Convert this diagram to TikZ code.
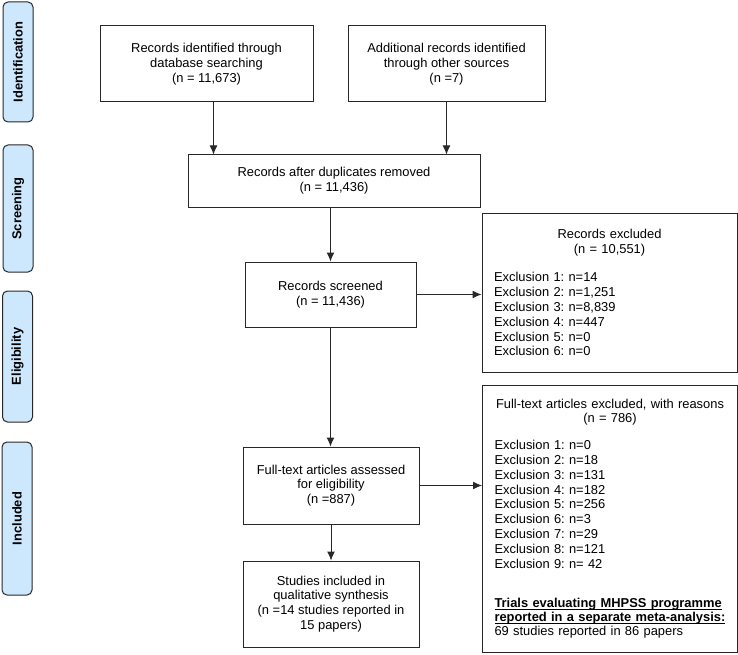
\documentclass[tikz,border=0pt]{standalone}
\usepackage{fontspec}
\setmainfont{Liberation Sans}
\usetikzlibrary{arrows.meta}
\definecolor{phaseblue}{RGB}{205,232,252}
\definecolor{edgegrey}{RGB}{40,40,40}
\frenchspacing

\begin{document}
\begin{tikzpicture}[x=1pt,y=-1pt]
	\tikzstyle{every node}=[font=\fontsize{12.9}{14.8}\selectfont]
	\tikzstyle{box}=[draw=edgegrey, line width=1pt, align=center, inner sep=0pt]
	\tikzstyle{listbox}=[draw=edgegrey, line width=1pt, align=left, inner xsep=12pt, inner ysep=0pt, text width=231pt]
	\tikzstyle{phase}=[draw=edgegrey, line width=1pt, fill=phaseblue, rounded corners=5pt, rotate=90, minimum height=30pt, inner sep=0pt, font=\fontsize{12.9}{15}\selectfont\bfseries]
	\tikzstyle{arr}=[-{Latex[length=9pt,width=8pt]}, line width=1pt, draw=edgegrey]
	\useasboundingbox (0,0) rectangle (738,655);

	% phases
	\node[phase, minimum width=120pt] (ident) at (18,62) {Identification};
	\node[phase, minimum width=127pt] (screen) at (18,208.5) {Screening};
	\node[phase, minimum width=131pt] (elig) at (17.5,356.5) {Eligibility};
	\node[phase, minimum width=153pt] (incl) at (17,518.5) {Included};

	% flow boxes
	\node[box, minimum width=213pt, minimum height=76pt] (db) at (206.5,64) {Records identified through\\database searching\\(n = 11,673)};
	\node[box, minimum width=197pt, minimum height=76pt] (other) at (446.5,64) {Additional records identified\\through other sources\\(n =7)};
	\node[box, minimum width=292pt, minimum height=52pt] (dup) at (334,181) {Records after duplicates removed\\(n = 11,436)};
	\node[box, minimum width=171pt, minimum height=65pt] (scr) at (330.5,294.5) {Records screened\\(n = 11,436)};
	\node[box, minimum width=176pt, minimum height=77pt] (ft) at (331,485.5) {Full-text articles assessed\\for eligibility\\(n =887)};
	\node[box, minimum width=176pt, minimum height=86pt] (inc) at (331,604) {Studies included in\\qualitative synthesis\\(n =14 studies reported in\\15 papers)};

	% exclusion boxes
	\node[listbox, minimum height=159pt] (exone) at (609.5,292.5) {{\centering Records excluded\\(n = 10,551)\par}\vspace{14pt}Exclusion 1: n=14\\Exclusion 2: n=1,251\\Exclusion 3: n=8,839\\Exclusion 4: n=447\\Exclusion 5: n=0\\Exclusion 6: n=0};
	\node[listbox, minimum height=267pt] (extwo) at (610,518.5) {{\centering Full-text articles excluded, with reasons\\(n = 786)\par}\vspace{12pt}Exclusion 1: n=0\\Exclusion 2: n=18\\Exclusion 3: n=131\\Exclusion 4: n=182\\Exclusion 5: n=256\\Exclusion 6: n=3\\Exclusion 7: n=29\\Exclusion 8: n=121\\Exclusion 9: n= 42\\[25pt]\mbox{\underline{\smash{\textbf{Trials evaluating MHPSS programme}}}}\\[-1pt]\mbox{\underline{\smash{\textbf{reported in a separate meta-analysis:}}}}\\[-1pt]69 studies reported in 86 papers};

	% connectors
	\draw[arr] ([xshift=7pt]db.south) -- ([xshift=7pt]db.south |- dup.north);
	\draw[arr] (other.south) -- (other.south |- dup.north);
	\draw[arr] (scr.north |- dup.south) -- (scr.north);
	\draw[arr] (scr.east) -- (scr.east -| exone.west);
	\draw[arr] (scr.south) -- (scr.south |- ft.north);
	\draw[arr] (ft.east) -- (ft.east -| extwo.west);
	\draw[arr] (ft.south) -- (inc.north);
\end{tikzpicture}
\end{document}
